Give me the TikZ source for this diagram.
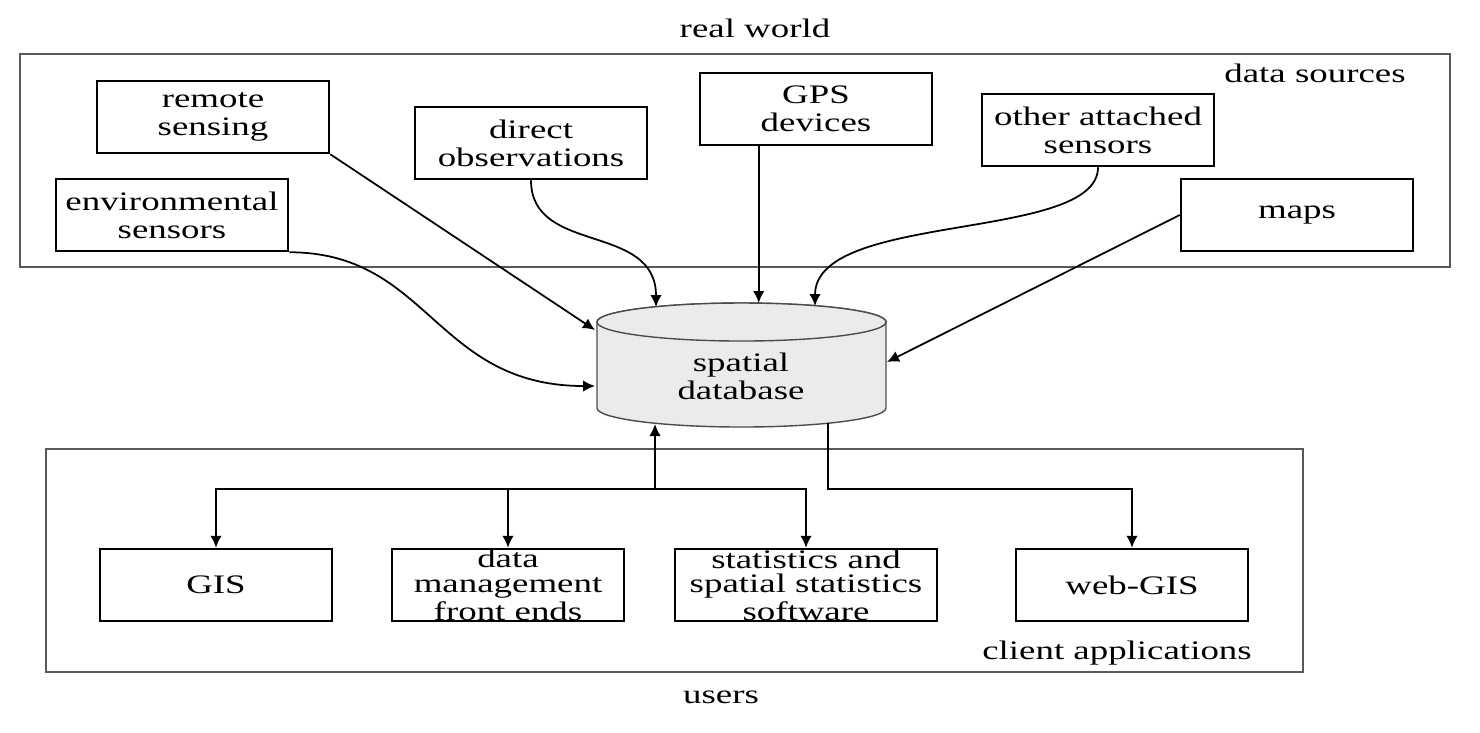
\documentclass[tikz,border=0pt]{standalone}
\usepackage{fontspec}
\setmainfont{Liberation Serif}[FakeStretch=1.38]
\usetikzlibrary{arrows.meta,calc}
\tikzset{
  src/.style={draw, line width=0.7pt, minimum width=2.32cm, minimum height=0.72cm,
    inner sep=0pt, align=center, font=\fontsize{7.6}{7.9}\selectfont},
  app/.style={src, font=\fontsize{7.6}{6.9}\selectfont},
  frame/.style={draw=black!65, line width=0.6pt},
  lbl/.style={inner sep=0pt, align=center, font=\fontsize{7.6}{7.9}\selectfont},
  cyl/.style={draw=black!70, fill=black!8, line width=0.4pt},
  arr/.style={-{Latex[length=1.2mm,width=1.15mm]}, line width=0.5pt},
}
\begin{document}
\begin{tikzpicture}[x=0.01cm, y=-0.01cm]
\useasboundingbox (0,0) rectangle (1480,732);

% frames
\draw[frame] (20,54) rectangle (1450,267);
\draw[frame] (46,449) rectangle (1303,672);

\node[lbl] (rw) at (755,28) {real world};
\node[lbl] (ds) at (1315,73) {data sources};
\node[lbl] (ca) at (1117,653) {client applications};
\node[lbl] (us) at (721,697) {users};

% data sources
\node[src] (rs) at (213,117) {remote\\sensing};
\node[src] (dobs) at (531,143) {direct\\observations};
\node[src] (gps) at (816,109) {GPS\\devices};
\node[src] (oas) at (1098,130) {other attached\\sensors};
\node[src] (maps) at (1297,215) {maps};
\node[src] (envs) at (172,215) {environmental\\sensors};

% database cylinder
\filldraw[cyl] (597,322) -- (597,408) arc[start angle=180, end angle=0, x radius=144.5, y radius=19]
  -- (886,322) arc[start angle=0, end angle=-180, x radius=144.5, y radius=19] -- cycle;
\draw[cyl] (741.5,322) ellipse[x radius=144.5, y radius=19];
\node[lbl] (db) at (741,376) {spatial\\database};

% clients
\node[app] (gis) at (216,585) {GIS};
\node[app] (dmf) at (508,585) {data\\management\\front ends};
\node[app, minimum width=2.62cm] (stat) at (806,585) {statistics and\\spatial statistics\\software};
\node[app] (web) at (1132,585) {web-GIS};

\coordinate (dbL) at ($(db.center)+(-146,10)$);
\coordinate (dbTL) at ($(db.center)+(-146,-46)$);
\coordinate (dbT1) at ($(db.center)+(-85,-69)$);
\coordinate (dbT2) at ($(db.center)+(20,-73)$);
\coordinate (dbT3) at ($(db.center)+(74,-70)$);
\coordinate (dbR) at ($(db.center)+(146,-14)$);
\coordinate (dbB1) at ($(db.center)+(-86,48)$);
\coordinate (dbB2) at ($(db.center)+(87,47)$);
\coordinate (gpsout) at ($(gps.south west)+(60,0)$);
\coordinate (jn) at (655,489);

\draw[arr] (rs.south east) -- (dbTL);
\draw[arr] (envs.south east) .. controls +(140,0) and +(-160,0) .. (dbL);
\draw[arr] (dobs.south) .. controls +(0,75) and +(0,-85) .. (dbT1);
\draw[arr] (gpsout) -- (gpsout |- dbT2);
\draw[arr] (oas.south) .. controls +(0,75) and +(0,-95) .. (dbT3);
\draw[arr] (maps.west) -- (dbR);

\draw[arr] (jn) -- (dbB1);
\draw[arr] (jn) -| (gis.north);
\draw[arr] (jn) -| (stat.north);
\draw[arr] (dmf.north |- jn) -- (dmf.north);
\draw[arr] (dbB2) |- (web.north |- jn) -- (web.north);
\end{tikzpicture}
\end{document}
